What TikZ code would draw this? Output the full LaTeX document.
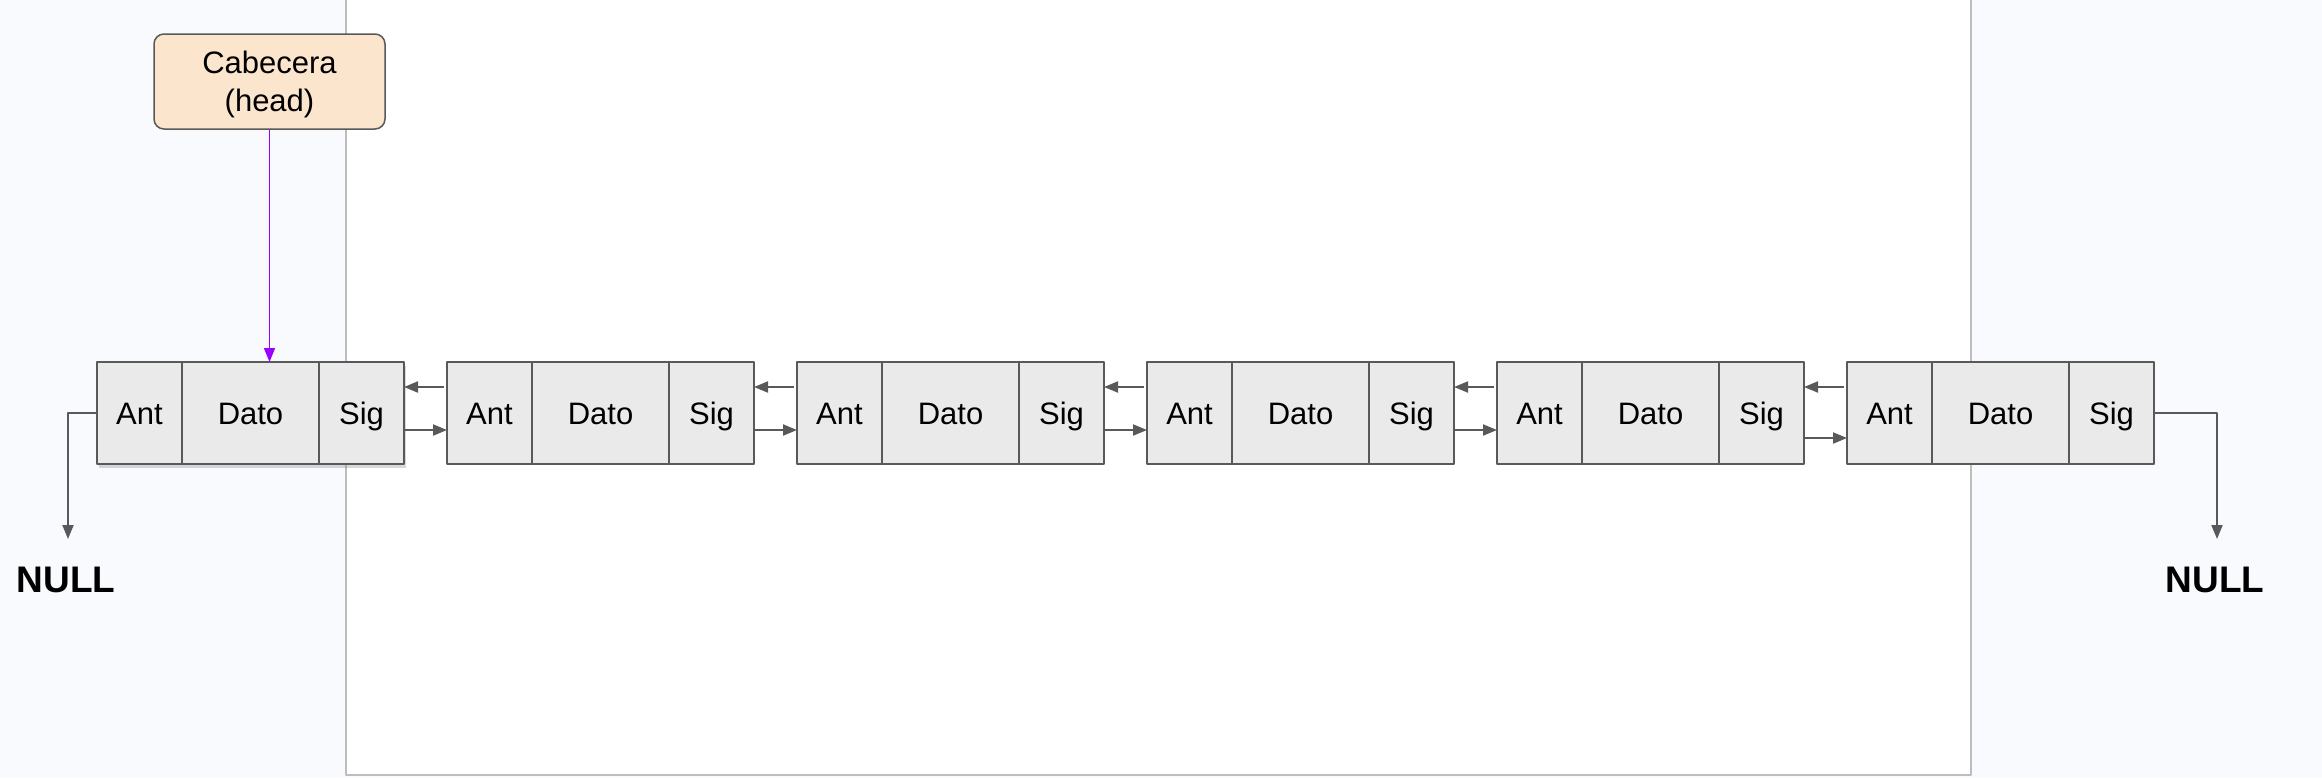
\documentclass[tikz,border=0pt]{standalone}
\usepackage{fontspec}
\setmainfont{Liberation Sans}
\usetikzlibrary{arrows.meta,calc,shadows}
\definecolor{fondo}{HTML}{F8FAFE}
\definecolor{marco}{HTML}{BDBDBD}
\definecolor{gris}{HTML}{EAEAEA}
\definecolor{borde}{HTML}{595959}
\definecolor{crema}{HTML}{FCE5CD}
\definecolor{morado}{HTML}{9900FF}
\begin{document}
\begin{tikzpicture}[x=0.5pt, y=-0.5pt, line join=round, >={Triangle[length=7pt,width=5.5pt]},
		celda/.style={draw=borde, fill=gris, line width=1pt, minimum height=51pt, inner sep=0pt, outer sep=0pt, anchor=west, text height=11pt, text depth=0pt, font=\fontsize{15.5}{18}\selectfont},
		lado/.style={celda, minimum width=42.5pt},
		dato/.style={celda, minimum width=68.5pt},
		sombra/.style={drop shadow={shadow xshift=1pt, shadow yshift=-2pt, opacity=0.3}},
		flecha/.style={->, draw=borde, line width=1pt},
		nulo/.style={font=\fontsize{18.5}{20}\selectfont\bfseries, inner sep=0pt}]
	\useasboundingbox (0,0) rectangle (2322,778);
	% fondo y hoja
	\fill[fondo] (0,0) rectangle (2322,778);
	\filldraw[fill=white, draw=marco, line width=1.25pt] (346,-10) rectangle (1971,775);
	% nodos de la lista
	\foreach \i/\extra in {1/sombra,2/,3/,4/,5/,6/}{
		\pgfmathsetmacro{\x}{97+350*(\i-1)}
		\node[lado,\extra] (a\i) at (\x,413) {Ant};
		\node[dato,\extra] (d\i) at (a\i.east) {Dato};
		\node[lado,\extra] (s\i) at (d\i.east) {Sig};
	}
	% enlaces dobles
	\foreach \i/\dy [count=\j from 2] in {1/17,2/17,3/17,4/17,5/25}{
		\draw[flecha] ($(a\j.west)+(-3,-26)$) -- ($(s\i.east)+(0,-26)$);
		\draw[flecha] ($(s\i.east)+(0,\dy)$) -- ($(a\j.west)+(0,\dy)$);
	}
	% extremos NULL
	\node[nulo] (nulizq) at (66,580) {NULL};
	\node[nulo] (nulder) at (2215,580) {NULL};
	\coordinate (finizq) at (68,539);
	\coordinate (finder) at (2217,539);
	\draw[flecha] (a1.west) -| (finizq);
	\draw[flecha] (s6.east) -| (finder);
	% cabecera
	\node[draw=borde, fill=crema, line width=0.75pt, rounded corners=5pt, minimum width=115.5pt, minimum height=47.5pt, align=center, text depth=0pt, font=\fontsize{15.5}{18.8}\selectfont] (cab) at (269.5,81.5) {Cabecera\\(head)};
	\draw[->, morado, line width=0.75pt] (cab.south) -- (cab.south |- d1.north);
\end{tikzpicture}
\end{document}
